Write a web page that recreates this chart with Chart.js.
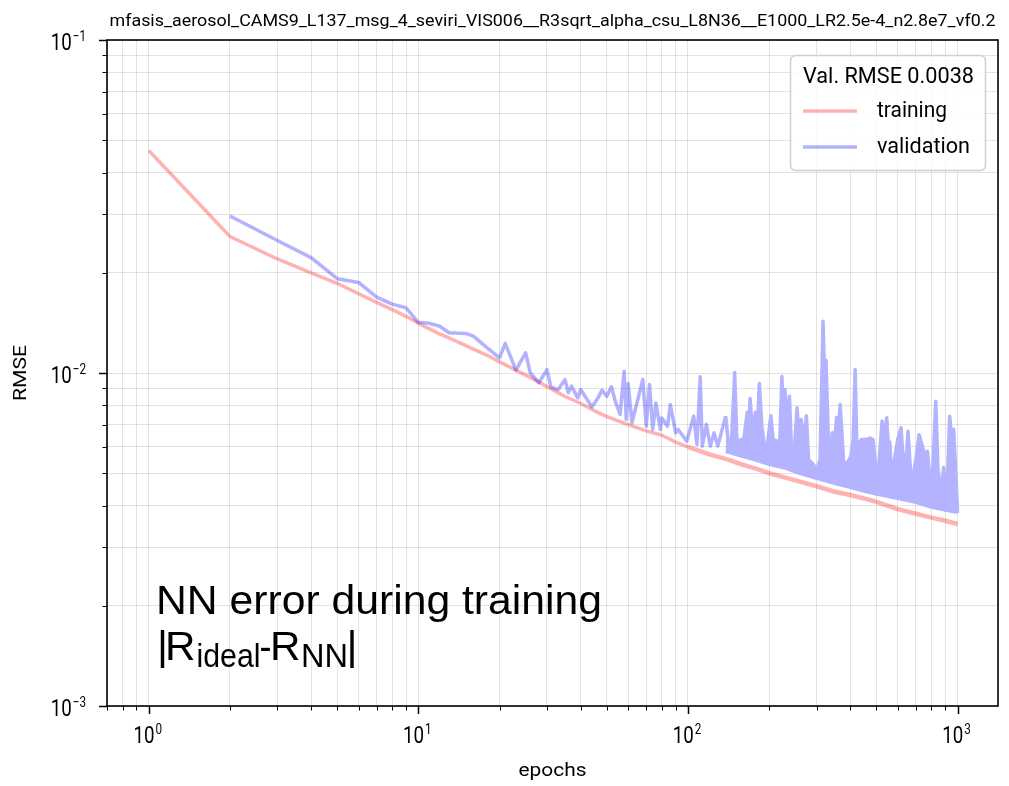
<!DOCTYPE html>
<html>
<head>
<meta charset="utf-8">
<script src="https://cdn.jsdelivr.net/npm/chart.js"></script>
<title>NN error during training</title>
<style>
  body { margin: 0; background: #ffffff; }
  #wrap { width: 1009px; height: 786px; }
</style>
</head>
<body>
<div id="wrap"><canvas id="chart1" width="1009" height="786"></canvas></div>

<script>

// training RMSE per epoch
var train_epochs = [1,2,3,4,5,6,7,8,9,10,12,14,16,18,20,23,26,30,35,40,45,50,60,70,80,90,100,
	120,140,160,180,200,230,260,300,350,400,450,500,600,700,800,900,1000]
var train_rmse = [0.0466,0.0257,0.0220,0.0200,0.0186,0.0173,0.0163,0.0155,0.0148,0.0141,
	0.0131,0.0124,0.0118,0.0113,0.0108,0.0102,0.0097,0.0091,0.0085,0.0081,
	0.0077,0.0074,0.0070,0.0067,0.0065,0.0062,0.0060,0.0057,0.0055,0.0053,
	0.00515,0.0050,0.00485,0.00472,0.00457,0.0044,0.0043,0.0042,0.0041,0.0039,
	0.00378,0.00368,0.0036,0.00352]

// validation RMSE (peaks of the noisy part)
var val_epochs = [2,3,4,5,6,7,8,9,10,11,12,13,15,16,18,20,21,23,25,26,28,30,31,33,35,36,37,39,40,44,
	46,48,50,52,54,56,58,59,60,62,68,70,72,74,76,79,80,84,86,90,92,99,105,108,111,113,117,121,125,129,138,142,
	145,149,152,157,161,166,168,170,173,178,181,184,188,192,197,203,207,215,219,223,
	226,229,233,238,242,248,254,258,263,268,275,280,288,301,309,317,321,325,334,343,
	349,356,361,367,378,391,402,410,417,423,440,458,473,486,498,508,525,535,546,552,
	561,567,574,583,600,617,625,637,647,655,665,676,690,700,720,738,754,773,790,809,
	830,846,870,887,905,920,935,951,967,984,1000]
var val_rmse = [0.0296,0.0250,0.0222,0.0192,0.0187,0.0169,0.0161,0.0157,0.0142,0.0141,
	0.01382,0.01321,0.01315,0.01290,0.01190,0.01111,0.01227,0.01020,0.01150,0.01001,
	0.00935,0.01024,0.00909,0.00892,0.00956,0.00872,0.00913,0.00842,0.00892,0.00791,
	0.00832,0.00888,0.00851,0.00909,0.00813,0.00751,0.01012,0.00725,0.00930,0.00709,
	0.00956,0.00692,0.00924,0.00677,0.00813,0.00677,0.00733,0.00692,0.00804,0.00661,
	0.00677,0.00624,0.00742,0.00610,0.00974,0.00603,0.00701,0.00603,0.00661,0.00603,
	0.00742,0.00589,
	0.00618,0.01003,0.00618,0.00631,0.00631,0.00762,0.00653,0.00839,0.00677,0.00762,
	0.00677,0.00930,0.00690,0.00610,0.00610,0.00744,0.00631,0.00624,0.00610,0.00978,
	0.00725,0.00892,0.00700,0.00852,0.00589,0.00589,0.00787,0.00631,0.00725,0.00610,
	0.00744,0.00550,0.00538,0.00513,0.00550,0.01430,0.00956,0.01092,0.00527,0.00662,
	0.00610,0.00735,0.00677,0.00804,0.00538,0.00538,0.00562,0.00631,0.01024,0.00604,
	0.00631,0.00631,0.00638,0.00631,0.00513,0.00503,0.00717,0.00631,0.00734,0.00631,
	0.00618,0.00513,0.00475,0.00550,0.00631,0.00685,0.00589,0.00513,0.00569,0.00669,
	0.00550,0.00438,0.00513,0.00550,0.00653,0.00610,0.00569,0.00582,0.00479,0.00513,
	0.00823,0.00513,0.00432,0.00520,0.00403,0.00513,0.00742,0.00631,0.00677,0.00513,
	0.0038]

// lower edge of the validation noise from epoch 138 on
var band_epochs = [138,150,175,200,230,260,300,350,400,450,500,600,700,800,900,1000]
var band_rmse = [0.00581,0.00569,0.00550,0.00531,0.00517,0.00499,0.00482,0.00466,0.00453,
	0.00441,0.00432,0.00420,0.00408,0.00395,0.00387,0.00381]

var x_major = [1,10,100,1000]       // 10^0 .. 10^3
var y_major = [0.001,0.01,0.1]      // 10^-3 .. 10^-1

var plot_title = 'mfasis_aerosol_CAMS9_L137_msg_4_seviri_VIS006__R3sqrt_alpha_csu_L8N36__E1000_LR2.5e-4_n2.8e7_vf0.2'
var legend_title = 'Val. RMSE 0.0038'
var x_label = 'epochs'
var y_label = 'RMSE'

var red_line = 'rgba(255,0,0,0.3)'
var blue_line = 'rgba(0,0,255,0.3)'
var blue_flat = 'rgb(179,179,255)'   // same tint as blue_line on white, no double alpha on the band
var grid_col = 'rgba(0,0,0,0.11)'


function pts(xs, ys) {
	return xs.map(function (x, i) { return {x: x, y: ys[i]} })
}

// 1..9 x 10^k inside [lo, hi]
function logTicks(lo, hi) {
	var out = []
	for (var k = Math.floor(Math.log10(lo)); k <= Math.floor(Math.log10(hi)); k++) {
		for (var m = 1; m <= 9; m++) {
			var v = m * Math.pow(10, k)
			if (v >= lo * 0.9999 && v <= hi * 1.0001) out.push(v)
		}
	}
	return out
}

function isDecade(v) {
	var l = Math.log10(v)
	return Math.abs(l - Math.round(l)) < 1e-9
}

// text drawn with a horizontal squeeze (condensed look)
function sqText(ctx, s, x, y, size, family, sx, align) {
	ctx.save()
	ctx.font = size + 'px ' + family
	var w = ctx.measureText(s).width * sx
	var x0 = align === 'center' ? x - w / 2 : (align === 'right' ? x - w : x)
	ctx.translate(x0, y)
	ctx.scale(sx, 1)
	ctx.textAlign = 'left'
	ctx.textBaseline = 'alphabetic'
	ctx.fillText(s, 0, 0)
	ctx.restore()
	return w
}

// same but squeezed to a given width
function fitText(ctx, s, x, y, size, family, width, align) {
	ctx.save()
	ctx.font = size + 'px ' + family
	var sx = width / ctx.measureText(s).width
	ctx.restore()
	return sqText(ctx, s, x, y, size, family, sx, align)
}

var TICK_SX = 0.78

function powLabel(ctx, v, x, y, align) {
	var e = Math.round(Math.log10(v))
	var sup = e < 0 ? '\u2212' + (-e) : String(e)
	ctx.save()
	ctx.font = '24px Roboto'
	var wb = ctx.measureText('10').width * TICK_SX
	ctx.font = '15px Roboto'
	var ws = ctx.measureText(sup).width * TICK_SX
	ctx.restore()
	var total = wb + 1 + ws
	var x0 = align === 'center' ? x - total / 2 : x - total
	sqText(ctx, '10', x0, y, 24, 'Roboto', TICK_SX, 'left')
	sqText(ctx, sup, x0 + wb + 1, y - 9, 15, 'Roboto', TICK_SX, 'left')
}


var decor = {
	id: 'decor',
	afterDraw: function (chart) {
		var ctx = chart.ctx
		var a = chart.chartArea
		var xs = chart.scales.x, ys = chart.scales.y
		ctx.save()
		ctx.fillStyle = '#000'
		ctx.strokeStyle = '#000'

		// tick marks, outward
		xs.ticks.forEach(function (t) {
			var px = Math.round(xs.getPixelForValue(t.value)) + 0.5
			var big = isDecade(t.value)
			ctx.lineWidth = big ? 1.5 : 1
			ctx.beginPath(); ctx.moveTo(px, a.bottom); ctx.lineTo(px, a.bottom + (big ? 8 : 4.5)); ctx.stroke()
		})
		ys.ticks.forEach(function (t) {
			var py = Math.round(ys.getPixelForValue(t.value)) + 0.5
			var big = isDecade(t.value)
			ctx.lineWidth = big ? 1.5 : 1
			ctx.beginPath(); ctx.moveTo(a.left, py); ctx.lineTo(a.left - (big ? 8 : 4.5), py); ctx.stroke()
		})

		// frame
		ctx.lineWidth = 1.6
		ctx.strokeRect(a.left, a.top, a.right - a.left, a.bottom - a.top)

		// tick labels
		x_major.forEach(function (v) { powLabel(ctx, v, xs.getPixelForValue(v) - 1, a.bottom + 37, 'center') })
		y_major.forEach(function (v) { powLabel(ctx, v, a.left - 21, ys.getPixelForValue(v) + 10, 'right') })

		// axis labels and title
		fitText(ctx, x_label, (a.left + a.right) / 2, 776, 19, 'Roboto', 68, 'center')
		ctx.save()
		ctx.translate(26, (a.top + a.bottom) / 2)
		ctx.rotate(-Math.PI / 2)
		fitText(ctx, y_label, 0, 0, 19, 'Roboto', 56, 'center')
		ctx.restore()
		fitText(ctx, plot_title, (a.left + a.right) / 2, 26, 17, 'Roboto', 886, 'center')

		// legend
		ctx.beginPath()
		ctx.roundRect(790.5, 55.5, 195, 115, 5)
		ctx.fillStyle = 'rgba(255,255,255,0.8)'
		ctx.fill()
		ctx.strokeStyle = '#d0d0d0'
		ctx.lineWidth = 1.5
		ctx.stroke()
		ctx.fillStyle = '#000'
		fitText(ctx, legend_title, 803, 83, 22, 'Roboto', 171, 'left')
		var rows = [[chart.data.datasets[1], 111, 117, 70], [chart.data.datasets[0], 147, 153, 93]]
		rows.forEach(function (r) {
			ctx.strokeStyle = r[0].borderColor
			ctx.lineWidth = 3.5
			ctx.beginPath(); ctx.moveTo(803, r[1]); ctx.lineTo(857, r[1]); ctx.stroke()
			ctx.fillStyle = '#000'
			fitText(ctx, r[0].label, 877, r[2], 22, 'Roboto', r[3], 'left')
		})

		// annotation: text, x, font size, width, baseline shift
		var fam = '"Liberation Sans", Arial, sans-serif'
		ctx.fillStyle = '#000'
		fitText(ctx, 'NN error during training', 156, 614, 41, fam, 446, 'left')
		var parts = [['|', 157, 40, 11, 0], ['R', 165, 40, 30.5, 0], ['ideal', 196.5, 33, 64, 7],
			['-', 259.5, 40, 12, 0], ['R', 270, 40, 30.5, 0], ['NN', 301, 33, 47, 7], ['|', 346.5, 40, 11, 0]]
		parts.forEach(function (p) {
			fitText(ctx, p[0], p[1], 660 + p[4], p[2], fam, p[3], 'left')
		})
		ctx.restore()
	}
}


var chart_data = {
	datasets: [
		{label: 'validation', data: pts(val_epochs, val_rmse), borderColor: blue_line, borderWidth: 3.5,
			backgroundColor: blue_flat, fill: 2, order: 0,
			segment: {borderColor: function (c) { return c.p0.parsed.x >= 138 ? blue_flat : blue_line }}},
		{label: 'training', data: pts(train_epochs, train_rmse), borderColor: red_line, borderWidth: 3.5,
			fill: false, order: 1,
			segment: {borderWidth: function (c) { return c.p0.parsed.x >= 100 ? 4.5 : 3.5 }}},
		{label: 'validation low', data: pts(band_epochs, band_rmse), borderColor: blue_flat, borderWidth: 3,
			fill: false, order: 2}
	]
}

var ctx = document.getElementById('chart1').getContext('2d')

var chart1 = new Chart(ctx, {
	type: 'line',
	data: chart_data,
	plugins: [decor],
	options: {
		responsive: false,
		animation: false,
		layout: {padding: {top: 40, right: 11, left: 0, bottom: 0}},
		elements: {point: {radius: 0}, line: {tension: 0, borderJoinStyle: 'round'}},
		plugins: {legend: {display: false}, tooltip: {enabled: false}, title: {display: false}},
		scales: {
			x: {
				type: 'logarithmic', min: Math.pow(10, -0.15), max: Math.pow(10, 3.15),
				ticks: {display: false}, border: {display: false},
				grid: {color: grid_col, lineWidth: 1, drawTicks: false},
				afterBuildTicks: function (s) { s.ticks = logTicks(s.min, s.max).map(function (v) { return {value: v} }) },
				afterFit: function (s) { s.height = 80 }
			},
			y: {
				type: 'logarithmic', min: 0.001, max: 0.1,
				ticks: {display: false}, border: {display: false},
				grid: {color: grid_col, lineWidth: 1, drawTicks: false},
				afterBuildTicks: function (s) { s.ticks = logTicks(s.min, s.max).map(function (v) { return {value: v} }) },
				afterFit: function (s) { s.width = 107 }
			}
		}
	}
})

</script>
</body>
</html>
